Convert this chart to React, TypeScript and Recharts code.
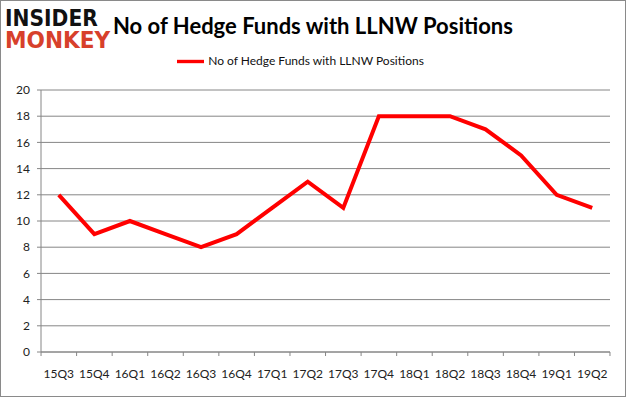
import { LineChart, Line, XAxis, YAxis, CartesianGrid, Legend } from "recharts";

const quarters = [
  "15Q3", "15Q4", "16Q1", "16Q2", "16Q3", "16Q4", "17Q1", "17Q2",
  "17Q3", "17Q4", "18Q1", "18Q2", "18Q3", "18Q4", "19Q1", "19Q2",
];
const funds = [12, 9, 10, 9, 8, 9, 11, 13, 11, 18, 18, 18, 17, 15, 12, 11];
const yTicks = [0, 2, 4, 6, 8, 10, 12, 14, 16, 18, 20];
const seriesName = "No of Hedge Funds with LLNW Positions";

const data = quarters.map((q, i) => ({ q, funds: funds[i] }));

const FONT = "Lato, 'Open Sans', sans-serif";
const GRID = "#868686";

// x tick: label in the middle, small mark at the category boundary (Excel style)
const QuarterTick = ({ x, y, payload, index }: any) => {
  const half = 568 / quarters.length / 2;
  return (
    <g>
      <line x1={x - half} x2={x - half} y1={y - 8} y2={y - 4} stroke={GRID} />
      {index === quarters.length - 1 && (
        <line x1={x + half} x2={x + half} y1={y - 8} y2={y - 4} stroke={GRID} />
      )}
      <text x={x} y={y + 18} textAnchor="middle" fill="#222" fontSize={12} fontFamily={FONT}>
        {payload.value}
      </text>
    </g>
  );
};

export default function App() {
  return (
    <div
      style={{
        position: "absolute",
        left: 0,
        top: 0,
        width: 624,
        height: 395,
        border: "1px solid #8a8a8a",
        background: "#fff",
        fontFamily: FONT,
      }}
    >
      <div style={{ position: "absolute", left: 4, top: 7, fontFamily: "'DejaVu Sans', sans-serif", fontWeight: 900 }}>
        <div style={{ height: 21, lineHeight: "21px", fontSize: 23, color: "#111", transform: "scaleX(0.88)", transformOrigin: "left", whiteSpace: "nowrap" }}>INSIDER</div>
        <div style={{ height: 21, lineHeight: "21px", fontSize: 23, color: "#d7402b", marginTop: 1, transform: "scaleX(0.94)", transformOrigin: "left", whiteSpace: "nowrap" }}>MONKEY</div>
      </div>
      <div
        style={{
          position: "absolute",
          left: 112,
          top: 11,
          fontSize: 22,
          fontWeight: 700,
          color: "#000",
          fontFamily: FONT,
          whiteSpace: "nowrap",
        }}
      >
        {seriesName}
      </div>
      <LineChart
        width={624}
        height={395}
        data={data}
        margin={{ top: 62, right: 15, left: 0, bottom: 14 }}
      >
        <CartesianGrid vertical={false} stroke={GRID} strokeWidth={1} />
        <XAxis
          dataKey="q"
          scale="band"
          height={30}
          axisLine={{ stroke: GRID }}
          tickLine={false}
          interval={0}
          tick={<QuarterTick />}
        />
        <YAxis
          width={40}
          domain={[0, 20]}
          ticks={yTicks}
          interval={0}
          axisLine={{ stroke: GRID }}
          tickLine={{ stroke: GRID }}
          tickSize={4}
          tickMargin={7}
          tick={{ fill: "#222", fontSize: 12, fontFamily: FONT }}
        />
        <Legend
          verticalAlign="top"
          align="center"
          iconType="plainline"
          iconSize={27}
          wrapperStyle={{ top: 47, fontSize: 12, fontFamily: FONT }}
          formatter={(v: string) => <span style={{ color: "#111" }}>{v}</span>}
        />
        <Line
          name={seriesName}
          dataKey="funds"
          stroke="#ff0000"
          strokeWidth={4}
          dot={false}
          activeDot={false}
          isAnimationActive={false}
          strokeLinejoin="miter"
        />
      </LineChart>
    </div>
  );
}
